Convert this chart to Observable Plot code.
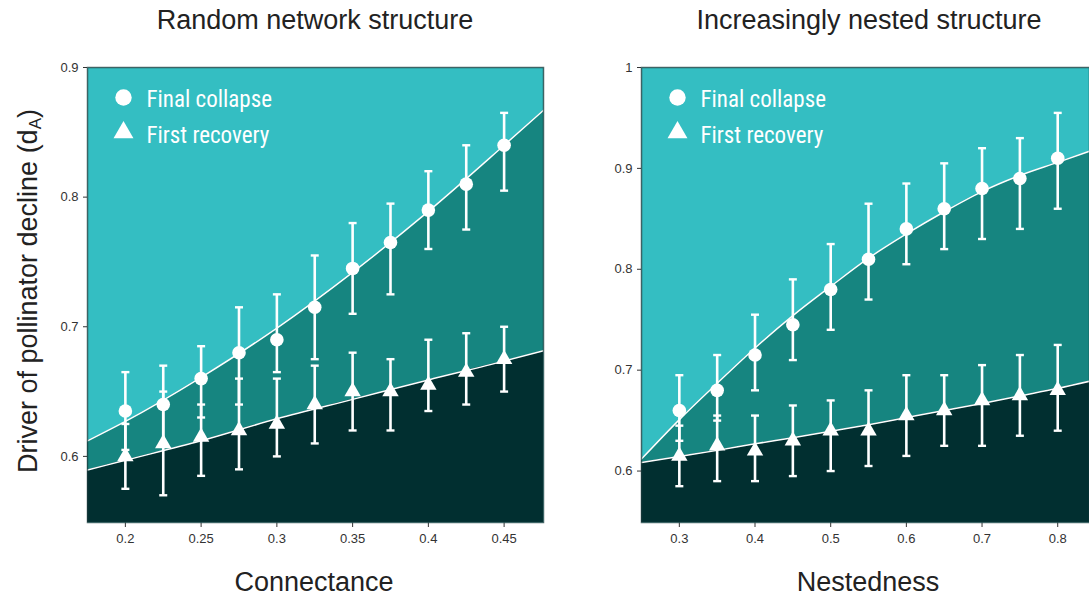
<!DOCTYPE html>
<html>
<head>
<meta charset="utf-8">
<script src="https://cdn.jsdelivr.net/npm/d3@7"></script>
<script src="https://cdn.jsdelivr.net/npm/@observablehq/plot@0.6"></script>
<style>
  html, body { margin: 0; padding: 0; background: #fff; }
  body { width: 1089px; height: 599px; position: relative; overflow: hidden; font-family: "Liberation Sans", Arial, Helvetica, sans-serif; color: #222; }
  .panel { position: absolute; top: 0; }
  .title, .xlabel { position: absolute; width: 600px; text-align: center; font-size: 27px; line-height: 27px; white-space: nowrap; color: #222; }
  .ylabel { position: absolute; width: 500px; text-align: center; font-size: 27px; line-height: 30px; white-space: nowrap; color: #222;
            left: -222px; top: 276px; transform: rotate(-90deg); transform-origin: 250px 15px; }
  .ylabel sub { font-size: 17px; vertical-align: -4px; }
</style>
</head>
<body>
<div id="left" class="panel" style="left:0px;width:560px"></div>
<div id="right" class="panel" style="left:560px;width:529px"></div>
<div class="title" style="left:15px;top:7px">Random network structure</div>
<div class="title" style="left:569px;top:7px">Increasingly nested structure</div>
<div class="xlabel" style="left:14px;top:569px">Connectance</div>
<div class="xlabel" style="left:568px;top:569px">Nestedness</div>
<div class="ylabel">Driver of pollinator decline (d<sub>A</sub>)</div>
<script>
// ---- Left panel: random network structure ----
const connectance = [0.2, 0.225, 0.25, 0.275, 0.3, 0.325, 0.35, 0.375, 0.4, 0.425, 0.45];
const randCollapse   = [0.635, 0.64, 0.66, 0.68, 0.69, 0.715, 0.745, 0.765, 0.79, 0.81, 0.84];
const randCollapseLo = [0.605, 0.61, 0.63, 0.64, 0.665, 0.675, 0.71, 0.725, 0.76, 0.775, 0.805];
const randCollapseHi = [0.665, 0.67, 0.685, 0.715, 0.725, 0.755, 0.78, 0.795, 0.82, 0.84, 0.865];
const randRecovery   = [0.6, 0.61, 0.615, 0.62, 0.625, 0.64, 0.65, 0.65, 0.655, 0.665, 0.675];
const randRecoveryLo = [0.575, 0.57, 0.585, 0.59, 0.6, 0.61, 0.62, 0.62, 0.635, 0.64, 0.65];
const randRecoveryHi = [0.625, 0.65, 0.64, 0.66, 0.66, 0.67, 0.68, 0.675, 0.69, 0.695, 0.7];
// fitted boundary curves
const randFitX        = [0.175, 0.2, 0.25, 0.3, 0.35, 0.4, 0.45, 0.476];
const randCollapseFit = [0.612, 0.627, 0.661, 0.699, 0.742, 0.789, 0.84, 0.867];
const randRecoveryFit = [0.5895, 0.597, 0.612, 0.629, 0.644, 0.659, 0.6735, 0.6815];
const randXDomain = [0.175, 0.476];
const randYDomain = [0.549, 0.9];
const randXTicks = [0.2, 0.25, 0.3, 0.35, 0.4, 0.45];
const randYTicks = [0.6, 0.7, 0.8, 0.9];

// ---- Right panel: increasingly nested structure ----
const nestedness = [0.3, 0.35, 0.4, 0.45, 0.5, 0.55, 0.6, 0.65, 0.7, 0.75, 0.8];
const nestCollapse   = [0.66, 0.68, 0.715, 0.745, 0.78, 0.81, 0.84, 0.86, 0.88, 0.89, 0.91];
const nestCollapseLo = [0.63, 0.65, 0.68, 0.71, 0.74, 0.77, 0.805, 0.82, 0.83, 0.84, 0.86];
const nestCollapseHi = [0.695, 0.715, 0.755, 0.79, 0.825, 0.865, 0.885, 0.905, 0.92, 0.93, 0.955];
const nestRecovery   = [0.615, 0.625, 0.62, 0.63, 0.64, 0.64, 0.655, 0.66, 0.67, 0.675, 0.68];
const nestRecoveryLo = [0.585, 0.59, 0.59, 0.595, 0.6, 0.605, 0.615, 0.625, 0.625, 0.635, 0.64];
const nestRecoveryHi = [0.645, 0.655, 0.655, 0.665, 0.67, 0.68, 0.695, 0.695, 0.705, 0.715, 0.725];
const nestFitX        = [0.25, 0.3, 0.35, 0.4, 0.45, 0.5, 0.55, 0.6, 0.65, 0.7, 0.75, 0.8, 0.842];
const nestCollapseFit = [0.612, 0.651, 0.687, 0.722, 0.754, 0.783, 0.811, 0.835, 0.857, 0.877, 0.893, 0.906, 0.917];
const nestRecoveryFit = [0.6085, 0.6145, 0.6205, 0.627, 0.633, 0.6395, 0.646, 0.653, 0.66, 0.667, 0.6745, 0.682, 0.689];
const nestXDomain = [0.25, 0.842];
const nestYDomain = [0.549, 1.0];
const nestXTicks = [0.3, 0.4, 0.5, 0.6, 0.7, 0.8];
const nestYTicks = [0.6, 0.7, 0.8, 0.9, 1];

const legendLabels = ["Final collapse", "First recovery"];

const COLORS = { light: "#34bec2", mid: "#168580", dark: "#012f30" };

const capSymbol = {
  draw(ctx, size) {
    const w = Math.sqrt(size / Math.PI);
    ctx.moveTo(-w, 0);
    ctx.lineTo(w, 0);
  }
};

function panel(o) {
  const pts = o.xs.map((x, i) => ({
    x, c: o.c[i], cLo: o.cLo[i], cHi: o.cHi[i], r: o.r[i], rLo: o.rLo[i], rHi: o.rHi[i]
  }));
  const fit = o.fitX.map((x, i) => ({ x, up: o.upFit[i], low: o.lowFit[i] }));
  const y0 = o.yDomain[0];
  const bar = { stroke: "white", strokeWidth: 2.6 };
  const cap = { symbol: capSymbol, r: 4, stroke: "white", strokeWidth: 2.4, fill: "none" };
  const legendFont = "'Liberation Sans Narrow', 'Roboto Condensed', 'Open Sans Condensed', Lato, sans-serif";
  return Plot.plot({
    width: o.width,
    height: 599,
    marginTop: 67,
    marginBottom: 77,
    marginLeft: o.marginLeft,
    marginRight: o.marginRight,
    style: { background: "transparent", fontFamily: "'Liberation Sans', Arial, sans-serif", fontSize: "13px", color: "#333", overflow: "visible" },
    x: { domain: o.xDomain, ticks: o.xTicks, tickFormat: d => String(d), tickSize: 5, tickPadding: 6, label: null },
    y: { domain: o.yDomain, ticks: o.yTicks, tickFormat: d => String(d), tickSize: 4, tickPadding: 5, label: null },
    marks: [
      Plot.frame({ fill: COLORS.light }),
      Plot.areaY(fit, { x: "x", y1: () => y0, y2: "up", fill: COLORS.mid, curve: "monotone-x" }),
      Plot.areaY(fit, { x: "x", y1: () => y0, y2: "low", fill: COLORS.dark, curve: "monotone-x" }),
      Plot.line(fit, { x: "x", y: "up", stroke: "white", strokeWidth: 1.5, curve: "monotone-x" }),
      Plot.line(fit, { x: "x", y: "low", stroke: "white", strokeWidth: 1.5, curve: "monotone-x" }),
      Plot.ruleX(pts, { x: "x", y1: "cLo", y2: "cHi", ...bar }),
      Plot.ruleX(pts, { x: "x", y1: "rLo", y2: "rHi", ...bar }),
      Plot.dot(pts, { x: "x", y: "cLo", ...cap }),
      Plot.dot(pts, { x: "x", y: "cHi", ...cap }),
      Plot.dot(pts, { x: "x", y: "rLo", ...cap }),
      Plot.dot(pts, { x: "x", y: "rHi", ...cap }),
      Plot.dot(pts, { x: "x", y: "c", symbol: "circle", r: 6.8, fill: "white" }),
      Plot.dot(pts, { x: "x", y: "r", symbol: "triangle", r: 6.1, fill: "white" }),
      // legend
      Plot.dot([legendLabels[0]], { frameAnchor: "top-left", dx: 36, dy: 30, symbol: "circle", r: 8.2, fill: "white" }),
      Plot.dot([legendLabels[1]], { frameAnchor: "top-left", dx: 36, dy: 65, symbol: "triangle", r: 7.4, fill: "white" }),
      Plot.text([legendLabels[0]], { frameAnchor: "top-left", dx: 59, dy: 23, text: d => d, fill: "white", fontSize: 23, textAnchor: "start", fontFamily: legendFont }),
      Plot.text([legendLabels[1]], { frameAnchor: "top-left", dx: 59, dy: 59, text: d => d, fill: "white", fontSize: 23, textAnchor: "start", fontFamily: legendFont }),
      Plot.frame({ stroke: "#1d3b3c", strokeOpacity: 0.75, strokeWidth: 1.5 })
    ]
  });
}

document.getElementById("left").append(panel({
  xs: connectance, c: randCollapse, cLo: randCollapseLo, cHi: randCollapseHi,
  r: randRecovery, rLo: randRecoveryLo, rHi: randRecoveryHi,
  fitX: randFitX, upFit: randCollapseFit, lowFit: randRecoveryFit,
  xDomain: randXDomain, yDomain: randYDomain, xTicks: randXTicks, yTicks: randYTicks,
  width: 560, marginLeft: 87, marginRight: 17
}));
document.getElementById("right").append(panel({
  xs: nestedness, c: nestCollapse, cLo: nestCollapseLo, cHi: nestCollapseHi,
  r: nestRecovery, rLo: nestRecoveryLo, rHi: nestRecoveryHi,
  fitX: nestFitX, upFit: nestCollapseFit, lowFit: nestRecoveryFit,
  xDomain: nestXDomain, yDomain: nestYDomain, xTicks: nestXTicks, yTicks: nestYTicks,
  width: 529, marginLeft: 81, marginRight: 0
}));
</script>
</body>
</html>
